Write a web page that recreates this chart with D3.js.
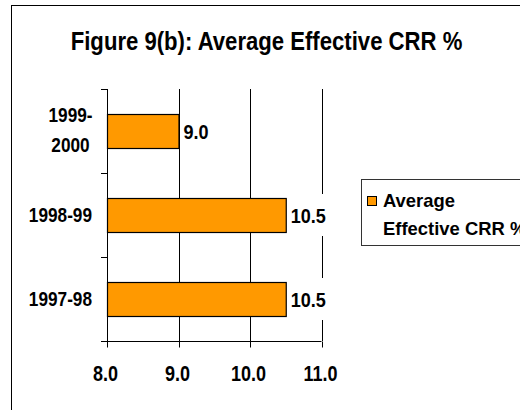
<!DOCTYPE html>
<html>
<head>
<meta charset="utf-8">
<script src="https://cdn.jsdelivr.net/npm/d3@7"></script>
<style>
  html, body { margin: 0; padding: 0; background: #fff; }
  svg { display: block; }
  text { font-family: "Liberation Sans", Arial, sans-serif; font-weight: bold; fill: #000; }
</style>
</head>
<body>
<div id="chart"></div>
<script>
const title = "Figure 9(b): Average Effective CRR %";
const categories = ["1999-2000", "1998-99", "1997-98"];
const categoryLines = [["1999-", "2000"], ["1998-99"], ["1997-98"]];
const values = [9.0, 10.5, 10.5];
const xTicks = [8.0, 9.0, 10.0, 11.0];
const seriesName = ["Average", "Effective CRR %"];

const W = 520, H = 410;
const NARROW = 0.82;
const svg = d3.select("#chart").append("svg").attr("width", W).attr("height", H);

function ntext(parent, x, y, anchor, size, str, sx) {
  return parent.append("text")
    .attr("transform", `translate(${x},${y}) scale(${sx || NARROW},1)`)
    .attr("text-anchor", anchor).style("font-size", size + "px").text(str);
}

// outer chart border (right/bottom cut off)
svg.append("rect").attr("x", 11.5).attr("y", 5.5).attr("width", 700).attr("height", 600)
  .attr("fill", "none").attr("stroke", "#000").attr("stroke-width", 1);

// title
ntext(svg, 266.5, 50, "middle", 25, title, 0.885);

const x = d3.scaleLinear().domain([8, 11]).range([107, 321.5]);
const y = d3.scaleBand().domain(categories).range([89, 341]).paddingInner(0.595).paddingOuter(0.2975);

// gridlines
svg.append("g").selectAll("line").data(xTicks.slice(1)).join("line")
  .attr("x1", d => Math.round(x(d)) + 0.5).attr("x2", d => Math.round(x(d)) + 0.5)
  .attr("y1", 89).attr("y2", 341).attr("stroke", "#000").attr("stroke-width", 1);

// x axis
const xAxis = svg.append("g").attr("transform", "translate(0,341.5)")
  .call(d3.axisBottom(x).tickValues(xTicks).tickFormat(d3.format(".1f")).tickSize(6).tickSizeOuter(0));
xAxis.select(".domain").attr("d", `M101,0H${x(11)}`).attr("stroke", "#000");
xAxis.selectAll(".tick line").attr("stroke", "#000");
xAxis.selectAll(".tick text").attr("y", 0).attr("dy", 0)
  .attr("transform", `translate(-2,39.5) scale(${NARROW},1)`)
  .style("font-size", "22px")
  .style("font-family", '"Liberation Sans", Arial, sans-serif')
  .style("font-weight", "bold").attr("fill", "#000");
xAxis.selectAll(".tick").each(function(d){ d3.select(this).attr("transform", `translate(${Math.round(x(d)) + 0.5},0)`); });

// y axis line and band-boundary ticks
const yAxis = svg.append("g");
yAxis.append("line").attr("x1", 107.5).attr("x2", 107.5).attr("y1", 89).attr("y2", 341)
  .attr("stroke", "#000");
const bounds = d3.range(categories.length + 1).map(i => y.range()[0] + i * y.step());
yAxis.selectAll(".bt").data(bounds).join("line").attr("class", "bt")
  .attr("x1", 101).attr("x2", 107.5)
  .attr("y1", d => Math.round(d) + 0.5).attr("y2", d => Math.round(d) + 0.5).attr("stroke", "#000");

// category labels
categories.forEach((c, i) => {
  const lines = categoryLines[i];
  const cy = y(c) + y.bandwidth() / 2;
  if (lines.length === 1) {
    ntext(svg, 92, cy + 7, "end", 21, lines[0]);
  } else {
    lines.forEach((l, j) => ntext(svg, 70.5, cy - 9 + j * 30, "middle", 21, l));
  }
});

// bars
svg.append("g").selectAll("rect").data(categories).join("rect")
  .attr("x", x(8) + 0.5).attr("y", d => Math.round(y(d)) + 0.5)
  .attr("width", (d, i) => x(values[i]) - x(8))
  .attr("height", Math.round(y.bandwidth()))
  .attr("fill", "#FF9900").attr("stroke", "#000").attr("stroke-width", 1.2);

// value labels with white backgrounds
const vl = svg.append("g");
categories.forEach((c, i) => {
  const cy = y(c) + y.bandwidth() / 2;
  const lx = x(values[i]) + 5;
  const txt = d3.format(".1f")(values[i]);
  vl.append("rect").attr("x", lx - 2).attr("y", cy - 21).attr("width", txt.length * 10 + 2).attr("height", 42)
    .attr("fill", "#fff");
  ntext(vl, lx, cy + 7.5, "start", 21, txt, 0.86);
});

// legend
const lg = svg.append("g");
lg.append("rect").attr("x", 361.5).attr("y", 179.5).attr("width", 300).attr("height", 66)
  .attr("fill", "#fff").attr("stroke", "#333").attr("stroke-width", 1);
lg.append("rect").attr("x", 367.5).attr("y", 196.5).attr("width", 9).attr("height", 9)
  .attr("fill", "#FF9900").attr("stroke", "#000").attr("stroke-width", 1);
seriesName.forEach((s, j) => ntext(lg, 383, 207 + j * 28, "start", 19, s, 0.97));
</script>
</body>
</html>
